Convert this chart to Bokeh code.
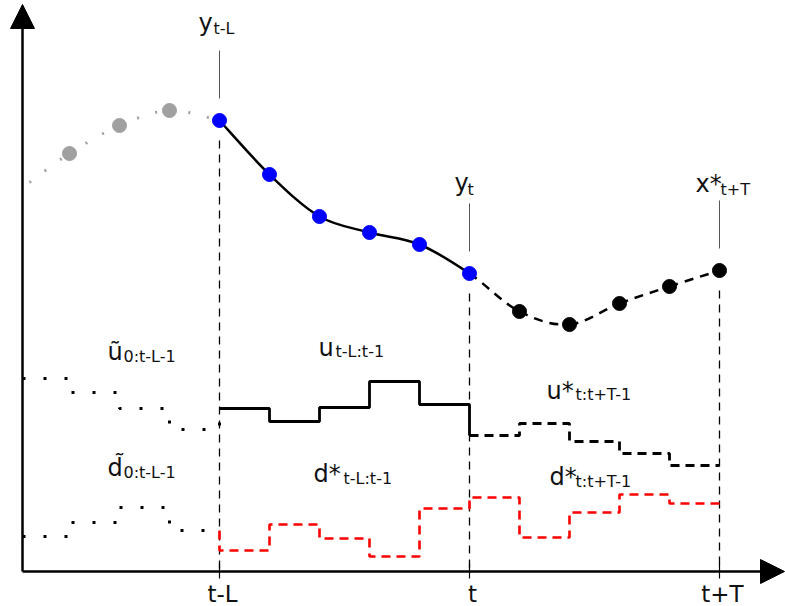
import numpy as np
from bokeh.plotting import figure
from bokeh.models import Range1d, Arrow, NormalHead
from bokeh.core.properties import value
from bokeh.embed import file_html
from bokeh.resources import INLINE

# Time index: one unit per sample, 0 = t-L, 5 = t, 10 = t+T
tick_pos = [0, 5, 10]
tick_labels = ["t-L", "t", "t+T"]
time_origin = -3.94          # where the time axis starts (vertical axis)

# Output trajectory
hist_x = [-3.8, -3, -2, -1]                      # older outputs (grey)
hist_y = [38.9, 41.8, 44.6, 46.1]
meas_x = [0, 1, 2, 3, 4, 5]                      # measured y_{t-L..t}
meas_y = [45.1, 39.7, 35.5, 33.9, 32.7, 29.8]
pred_x = [6, 7, 8, 9, 10]                        # predicted x*_{t+1..t+T}
pred_y = [26.0, 24.7, 26.8, 28.5, 30.1]

# Inputs (piecewise constant per sample)
u_hist = [19.3, 17.9, 16.3, 14.2]                # samples -4..-1
u_past = [16.3, 15.0, 16.4, 19.0, 16.7]          # samples 0..4
u_plan = [13.6, 14.8, 13.0, 11.8, 10.6]          # samples 5..9
d_hist = [3.5, 4.9, 6.4, 4.1]
d_past = [2.1, 4.7, 3.3, 1.5, 6.3]
d_plan = [7.4, 3.4, 5.9, 7.7, 6.8]

FONT = value("DejaVu Sans")
TXT = "#111111"


def catmull_bezier(xs, ys):
    """Cubic Bezier pieces of a Catmull-Rom spline through the points."""
    P = np.column_stack([xs, ys]).astype(float)
    E = np.vstack([P[0], P, P[-1]])
    out = {k: [] for k in ("x0", "y0", "x1", "y1", "cx0", "cy0", "cx1", "cy1")}
    for i in range(len(P) - 1):
        p0, p1, p2, p3 = E[i], E[i + 1], E[i + 2], E[i + 3]
        c1 = p1 + (p2 - p0) / 6.0
        c2 = p2 - (p3 - p1) / 6.0
        out["x0"].append(p1[0]); out["y0"].append(p1[1])
        out["x1"].append(p2[0]); out["y1"].append(p2[1])
        out["cx0"].append(c1[0]); out["cy0"].append(c1[1])
        out["cx1"].append(c2[0]); out["cy1"].append(c2[1])
    return out


def subset(d, sl):
    return {k: v[sl] for k, v in d.items()}


def steps(start, vals):
    xs, ys = [], []
    for i, v in enumerate(vals):
        xs += [start + i, start + i + 1]
        ys += [v, v]
    return xs, ys


p = figure(width=785, height=606, output_backend="svg", toolbar_location=None,
           x_range=Range1d(-4.38, 11.32), y_range=Range1d(-3.5, 57.1),
           x_axis_type=None, y_axis_type=None, min_border=0)
p.grid.visible = False
p.outline_line_color = None
p.background_fill_color = "white"
p.border_fill_color = "white"

# --- vertical guides at t-L, t, t+T
marks = [meas_y[0], meas_y[-1], pred_y[-1]]
p.segment(x0=tick_pos, y0=[m - 2.0 for m in marks], x1=tick_pos, y1=[0] * 3,
          line_color="black", line_width=1.3, line_dash="8 6")
p.segment(x0=tick_pos, y0=[m + 2.2 for m in marks], x1=tick_pos, y1=[m + 7.0 for m in marks],
          line_color="#555555", line_width=1)

# --- output trajectory
gx = hist_x + [meas_x[0]]
gy = hist_y + [meas_y[0]]
p.bezier(**catmull_bezier(gx, gy), line_color="#a0a0a0", line_width=3, line_dash="2 17")

traj = catmull_bezier(meas_x + pred_x, meas_y + pred_y)
n_meas = len(meas_x) - 1
p.bezier(**subset(traj, slice(0, n_meas)), line_color="black", line_width=2.5)
p.bezier(**subset(traj, slice(n_meas, None)), line_color="black", line_width=2.5, line_dash="9 7")

p.scatter(hist_x[1:], hist_y[1:], size=14, color="#a0a0a0")
p.scatter(meas_x, meas_y, size=14, color="#0000ff")
p.scatter(pred_x, pred_y, size=14, color="black")

# --- inputs u
ux, uy = steps(-4, u_hist)
ux[0] = time_origin
ux.append(0); uy.append(u_past[0])
p.line(ux, uy, line_color="black", line_width=3, line_dash="3 18")

ux, uy = steps(0, u_past)
ux.append(5); uy.append(u_plan[0])
p.line(ux, uy, line_color="black", line_width=2.8)

ux, uy = steps(5, u_plan)
p.line(ux, uy, line_color="black", line_width=2.8, line_dash="9 6")

# --- disturbances d
dx, dy = steps(-4, d_hist)
dx[0] = time_origin
p.line(dx, dy, line_color="black", line_width=3, line_dash="3 18")

ax, ay = steps(0, d_past)
bx, by = steps(5, d_plan)
p.line([0] + ax + bx, [d_hist[-1]] + ay + by, line_color="#ff0000", line_width=2.6, line_dash="9 6")

# --- axes with arrow heads
p.add_layout(Arrow(end=NormalHead(size=24, fill_color="black", line_color="black"),
                   x_start=time_origin, y_start=0, x_end=time_origin, y_end=56.7,
                   line_color="black", line_width=2.5))
p.add_layout(Arrow(end=NormalHead(size=24, fill_color="black", line_color="black"),
                   x_start=time_origin, y_start=0, x_end=11.3, y_end=0,
                   line_color="black", line_width=2.5))
p.segment(x0=tick_pos, y0=[0.8] * 3, x1=tick_pos, y1=[-0.7] * 3,
          line_color="black", line_width=1.2)
p.text(x=tick_pos, y=[-2.2] * 3, text=tick_labels, x_offset=3,
       text_font=FONT, text_font_size="23px", text_align="center",
       text_baseline="alphabetic", text_color=TXT)

# --- symbol labels: main symbol + subscript
labels = [
    ("y", -0.42, 54.9, "t-L", -0.12, 54.3),
    ("y", 4.70, 38.9, "t", 4.96, 38.2),
    ("x*", 9.52, 38.8, "t+T", 10.02, 38.2),
    ("\u0169", -2.24, 22.0, "0:t-L-1", -1.92, 21.5),
    ("d\u0303", -2.24, 10.4, "0:t-L-1", -1.92, 9.9),
    ("u", 1.98, 22.4, "t-L:t-1", 2.32, 22.0),
    ("u*", 6.54, 18.1, "t:t+T-1", 7.12, 17.7),
    ("d*", 1.88, 9.8, "t-L:t-1", 2.48, 9.3),
    ("d*", 6.60, 9.5, "t:t+T-1", 7.12, 9.0),
]
p.text(x=[l[1] for l in labels], y=[l[2] for l in labels], text=[l[0] for l in labels],
       text_font=FONT, text_font_size="24px", text_align="left",
       text_baseline="alphabetic", text_color=TXT)
p.text(x=[l[4] for l in labels], y=[l[5] for l in labels], text=[l[3] for l in labels],
       text_font=FONT, text_font_size="16px", text_align="left",
       text_baseline="alphabetic", text_color=TXT)

open("out.html", "w").write(file_html(p, INLINE))
